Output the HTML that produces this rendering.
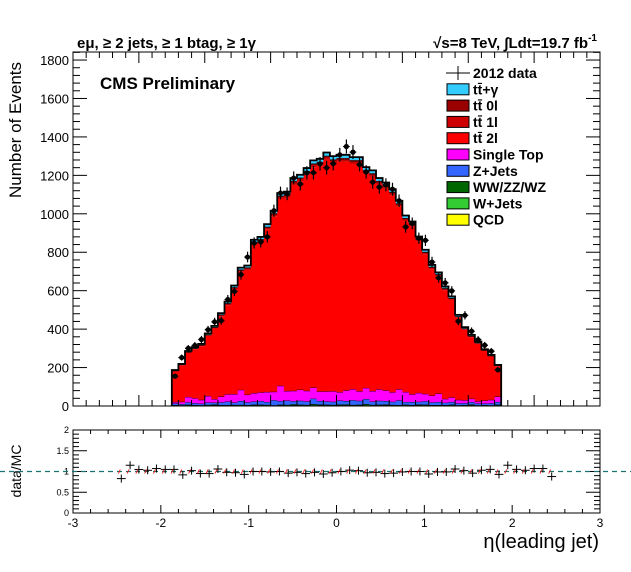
<!DOCTYPE html>
<html><head><meta charset="utf-8"><style>
body{margin:0;background:#fff;width:631px;height:572px;overflow:hidden}
svg{display:block;font-family:"Liberation Sans",sans-serif}
</style></head><body>
<svg id="c" width="631" height="572">
<text x="77" y="48" font-size="15" font-weight="bold">eμ, ≥ 2 jets, ≥ 1 btag, ≥ 1γ</text>
<text x="597" y="48" font-size="15" font-weight="bold" text-anchor="end">√s=8 TeV, ∫Ldt=19.7 fb<tspan dy="-7" font-size="10">-1</tspan></text>
<text x="100" y="89" font-size="17" font-weight="bold">CMS Preliminary</text>
<text transform="translate(21,130) rotate(-90)" font-size="17" text-anchor="middle">Number of Events</text>
<text transform="translate(21,471) rotate(-90)" font-size="14" text-anchor="middle">data/MC</text>
<text x="599" y="548" font-size="20" text-anchor="end">η(leading jet)</text>
<g id="main"></g><g id="ratio"></g><g id="legend"></g>
</svg>
<script>
const binLo=-2.5, binW=0.1;
const total=[187,219,286,306,323,378,417,483,543,627,720,731,865,880,946,1016,1108,1115,1186,1203,1238,1278,1286,1319,1300,1307,1307,1295,1295,1243,1226,1186,1163,1128,1068,991,960,882,813,734,695,622,570,474,410,370,335,295,266,214];
const dataVals=[155,252,300,315,346,397,438,444,554,596,684,775,848,854,880,1016,1108,1104,1186,1155,1213,1214,1260,1240,1261,1307,1350,1321,1256,1218,1165,1139,1151,1128,1068,932,950,873,862,749,667,641,599,441,472,389,345,316,285,188];
const wjets=[3,2,4,3,2,3,5,3,2,4,3,2,5,4,3,2,4,3,5,4,3,6,5,4,3,5,4,3,4,6,3,4,5,3,2,4,3,5,4,3,2,3,4,2,3,5,2,3,2,4];
const diboson=[2,2,3,2,2,3,3,2,3,2,3,3,2,3,3,2,3,3,4,3,3,4,3,3,3,3,4,3,3,4,3,3,3,3,3,3,2,3,3,2,3,2,3,2,2,3,2,2,2,3];
const zjets=[8,6,12,10,8,12,10,14,18,12,20,14,16,18,15,26,18,22,16,20,18,28,18,17,16,20,18,24,20,26,17,20,18,16,24,14,16,14,18,14,16,12,14,10,10,12,9,8,10,14];
const singleTop=[8,12,28,26,20,34,18,30,38,44,58,40,44,46,52,44,80,50,54,58,55,58,50,52,55,44,55,58,50,58,55,60,55,50,58,52,40,46,38,35,44,20,24,18,15,18,12,15,18,28];
const tt0l=[1,1,2,1,2,2,2,2,3,3,3,3,4,4,4,4,4,5,5,5,5,5,5,5,5,5,5,5,5,5,5,5,5,4,4,4,4,4,3,3,3,3,3,2,2,2,2,1,1,1];
const tt1l=[3,3,4,4,5,5,6,7,8,8,9,10,11,11,12,12,13,13,14,14,14,15,15,15,15,15,15,15,15,14,14,14,13,13,12,12,11,11,10,9,9,8,7,6,5,5,4,4,3,3];
const ttgamma=[3,3,4,5,5,6,6,7,8,9,10,10,12,12,13,13,14,15,15,15,16,16,16,17,17,17,17,16,16,16,15,15,15,14,13,13,12,12,11,10,9,9,8,7,6,5,5,4,4,3];
const yTicks=[0,200,400,600,800,1000,1200,1400,1600,1800];
const rTicks=[0,0.5,1,1.5,2];
const rxTicks=[-3,-2,-1,0,1,2,3];

const NS="http://www.w3.org/2000/svg";
function mk(tag,attrs,parent){const e=document.createElementNS(NS,tag);for(const k in attrs)e.setAttribute(k,attrs[k]);parent.appendChild(e);return e;}
const MX0=73,MX1=600,MY0=52,MY1=406;
const mx=v=>MX0+(v+4)/8*(MX1-MX0);
const my=v=>MY1-v*0.1922;
const main=document.getElementById('main');
const tt2l=total.map((t,i)=>t-wjets[i]-diboson[i]-zjets[i]-singleTop[i]-tt0l[i]-tt1l[i]-ttgamma[i]);
const comps=[[wjets,'#33cc33','wjets'],[diboson,'#006600','diboson'],[zjets,'#3366ff','zjets'],[singleTop,'#ff00ff','single-top'],[tt2l,'#ff0000','tt-2l'],[tt1l,'#cc0000','tt-1l'],[tt0l,'#990000','tt-0l'],[ttgamma,'#33ccff','tt-gamma']];
for(let i=0;i<total.length;i++){
  let cum=0;const x0=mx(binLo+i*binW),x1=mx(binLo+(i+1)*binW);
  for(const [arr,col,nm] of comps){
    const r=mk('rect',{x:x0,y:my(cum+arr[i]),width:x1-x0+0.4,height:my(cum)-my(cum+arr[i]),fill:col},main);
    
    
    cum+=arr[i];
    if(nm!=='tt-2l'){mk('line',{x1:x0,x2:x1,y1:my(cum),y2:my(cum),stroke:'#000','stroke-width':0.8},main);}
  }
}
let d='M'+mx(binLo)+' '+my(0);
for(let i=0;i<total.length;i++){d+=' L'+mx(binLo+i*binW)+' '+my(total[i])+' L'+mx(binLo+(i+1)*binW)+' '+my(total[i]);}
d+=' L'+mx(binLo+total.length*binW)+' '+my(0);
const ol=mk('path',{d:d,fill:'none',stroke:'#000','stroke-width':1.8},main);


for(let i=0;i<dataVals.length;i++){
  const cx=mx(binLo+(i+0.5)*binW),cy=my(dataVals[i]),e=Math.sqrt(dataVals[i])*0.1922;
  const g=mk('g',{},main);
  
  
  mk('line',{x1:cx,x2:cx,y1:cy-e,y2:cy+e,stroke:'#000','stroke-width':1.2},g);
  mk('line',{x1:cx-3.3,x2:cx+3.3,y1:cy,y2:cy,stroke:'#000','stroke-width':1.2},g);
  mk('circle',{cx:cx,cy:cy,r:2.6,fill:'#000'},g);
}
const fr=mk('rect',{x:MX0,y:MY0,width:MX1-MX0,height:MY1-MY0,fill:'none',stroke:'#000','stroke-width':1},main);


for(let v=0;v<=1840;v+=40){const y=my(v);const L=v%200===0?14:7;
  mk('line',{x1:MX0,x2:MX0+L,y1:y,y2:y,stroke:'#000'},main);mk('line',{x1:MX1,x2:MX1-L,y1:y,y2:y,stroke:'#000'},main);}
for(const v of yTicks){const t=mk('text',{x:MX0-4,y:my(v)+5,'font-size':13,'text-anchor':'end'},main);t.textContent=v;
  
  }
for(let k=0;k<=40;k++){const v=-4+k*0.2;const x=mx(v);const L=k%5===0?11:6;
  mk('line',{x1:x,x2:x,y1:MY1,y2:MY1-L,stroke:'#000'},main);mk('line',{x1:x,x2:x,y1:MY0,y2:MY0+L,stroke:'#000'},main);}
const RX0=73,RX1=600,RY0=430,RY1=513;
const rx=v=>RX0+(v+3)/6*(RX1-RX0);
const ry=v=>RY1-v/2*(RY1-RY0);
const ratio=document.getElementById('ratio');
const rf=mk('rect',{x:RX0,y:RY0,width:RX1-RX0,height:RY1-RY0,fill:'#fff',stroke:'#000'},ratio);


for(let k=0;k<=30;k++){const x=rx(-3+k*0.2);const L=k%5===0?8:4;
  mk('line',{x1:x,x2:x,y1:RY1,y2:RY1-L,stroke:'#000'},ratio);mk('line',{x1:x,x2:x,y1:RY0,y2:RY0+L,stroke:'#000'},ratio);}
for(let k=0;k<=20;k++){const y=ry(k*0.1);const L=k%5===0?14:6;
  mk('line',{x1:RX0,x2:RX0+L,y1:y,y2:y,stroke:'#000'},ratio);mk('line',{x1:RX1,x2:RX1-L,y1:y,y2:y,stroke:'#000'},ratio);}
for(const v of rTicks){const t=mk('text',{x:RX0-4,y:ry(v)+3,'font-size':9,'text-anchor':'end'},ratio);t.textContent=v;
  
  }
for(const v of rxTicks){const t=mk('text',{x:rx(v),y:RY1+14,'font-size':12,'text-anchor':'middle'},ratio);t.textContent=v;
  
  }
const dl=mk('line',{x1:0,x2:631,y1:ry(1),y2:ry(1),stroke:'#1a7373','stroke-width':1.3,'stroke-dasharray':'5,4'},ratio);


for(let i=0;i<dataVals.length;i++){
  const r=dataVals[i]/total[i];const cx=rx(binLo+(i+0.5)*binW),cy=ry(r);
  const g=mk('g',{},ratio);
  
  
  mk('line',{x1:cx-4.4,x2:cx+4.4,y1:cy,y2:cy,stroke:'#000'},g);
  mk('line',{x1:cx,x2:cx,y1:cy-4,y2:cy+4,stroke:'#000'},g);
  mk('line',{x1:cx-3,x2:cx-1,y1:ry(0.95),y2:ry(1.05),stroke:'#f00','stroke-width':0.8},g);
}
const legend=document.getElementById('legend');
const items=[['2012 data',null],['tt̄+γ','#33ccff'],['tt̄ 0l','#990000'],['tt̄ 1l','#cc0000'],['tt̄ 2l','#ff0000'],['Single Top','#ff00ff'],['Z+Jets','#3366ff'],['WW/ZZ/WZ','#006600'],['W+Jets','#33cc33'],['QCD','#ffff00']];
items.forEach((it,k)=>{const y=73+k*16.3;const g=mk('g',{},legend);
  
  
  if(it[1]){mk('rect',{x:447,y:y-5.5,width:22,height:11,fill:it[1],stroke:'#000','stroke-width':1},g);}
  else{mk('line',{x1:446,x2:470,y1:y,y2:y,stroke:'#000'},g);mk('line',{x1:458,x2:458,y1:y-7,y2:y+7,stroke:'#000'},g);}
  const t=mk('text',{x:473,y:y+5,'font-size':14,'font-weight':'bold'},g);t.textContent=it[0];});
</script>
</body></html>
